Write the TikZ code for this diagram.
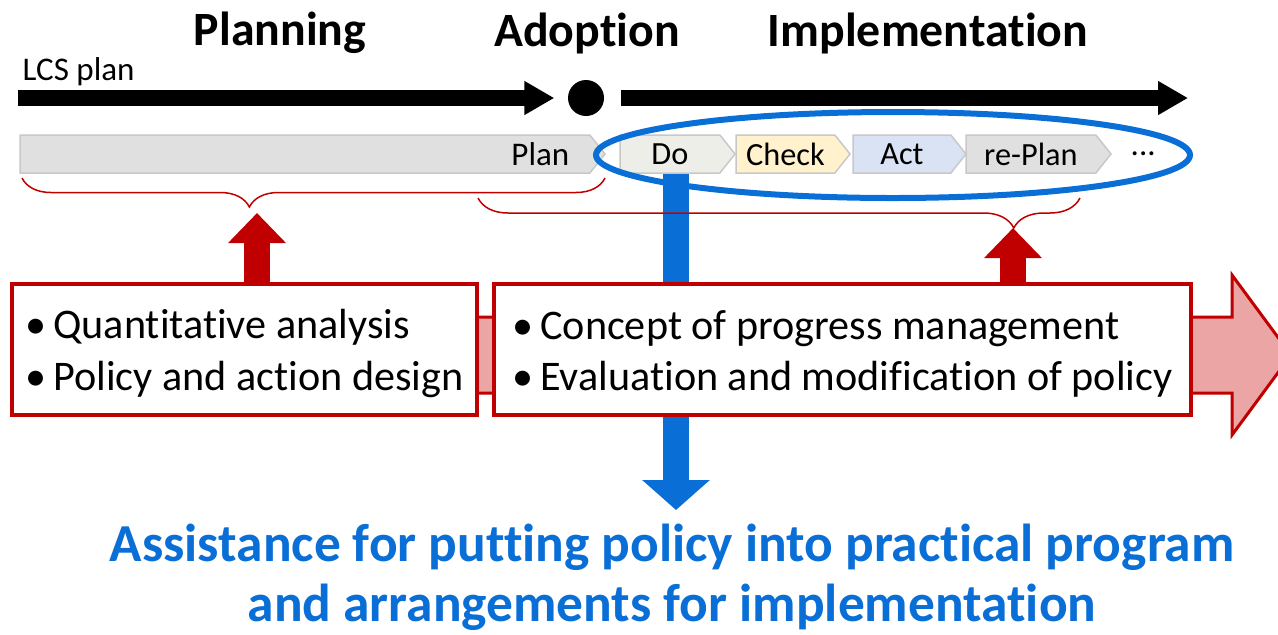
\documentclass[tikz,border=0pt]{standalone}
\usepackage{fontspec}
\setmainfont{Carlito}[Ligatures=NoCommon]
\usetikzlibrary{positioning}
\usetikzlibrary{shapes.symbols}
\usetikzlibrary{arrows.meta}
\usetikzlibrary{decorations.pathreplacing}

\definecolor{lcsred}{HTML}{C00000}
\definecolor{lcspink}{HTML}{EBA5A5}
\definecolor{lcsblue}{HTML}{0A6ED7}
\definecolor{chevgray}{HTML}{E0E0E0}
\definecolor{chevline}{HTML}{C8C8C8}
\definecolor{chevdo}{HTML}{EEEEE8}
\definecolor{chevcheck}{HTML}{FFF2CC}
\definecolor{chevact}{HTML}{DAE3F3}

\newcommand{\topstrut}{\rule{0pt}{10.6pt}}

\begin{document}
\begin{tikzpicture}
    [
    x=0.1mm, y=-0.1mm,
    heading/.style={font=\fontsize{13.6}{16}\selectfont\bfseries, inner sep=0},
    small/.style={font=\fontsize{9.4}{11}\selectfont, inner sep=0},
    chevron/.style={signal, signal to=east, signal pointer angle=103, draw=chevline, line width=0.15mm,
        minimum height=3.8mm, inner sep=0, outer sep=0, font=\fontsize{9.2}{11}\selectfont},
    time_arrow/.style={line width=1.6mm, -{Triangle[length=3mm, width=3.2mm]}},
    up_arrow/.style={line width=2.6mm, draw=lcsred, -{Triangle[length=3mm, width=5.6mm]}},
    down_arrow/.style={line width=2.6mm, draw=lcsblue, -{Triangle[length=3mm, width=6.6mm]}},
    brace_line/.style={draw=lcsred, line width=0.15mm, decorate},
    infobox/.style={draw=lcsred, line width=0.4mm, fill=white, align=left, inner sep=0,
        minimum height=13.1mm, font=\fontsize{12}{14.6}\selectfont},
    ]

    % frame of the picture
    \useasboundingbox (0,0) rectangle (1278,634);

    % headings and time line
    \node[heading] (hd_planning) at (280,33) {Planning};
    \node[heading] (hd_adoption) at (587,33) {Adoption};
    \node[heading] (hd_implementation) at (928,33) {Implementation};

    \coordinate (time_start) at (18,98);
    \coordinate (time_end) at (1188,98);
    \node[circle, fill=black, minimum size=3.6mm, inner sep=0] (adopt_dot) at (586,98) {};
    \node[small, anchor=south west] (lbl_lcs) at (22,87) {LCS plan};
    \draw[time_arrow, shorten >=1.3mm] (time_start) -- (adopt_dot);
    \draw[time_arrow, shorten <=1.6mm] (adopt_dot) -- (time_end);

    % big flow arrow behind the boxes
    \draw[draw=lcsred, fill=lcspink, line width=0.3mm]
        (470,317) -- (1232,317) -- (1232,275) -- (1291,355) -- (1232,435) -- (1232,393) -- (470,393) -- cycle;

    % blue arrow down to the assistance text
    \coordinate (blue_start) at (676,165);
    \coordinate (blue_end) at (676,510);
    \draw[down_arrow] (blue_start) -- (blue_end);

    % the two boxes
    \node[infobox, minimum width=46.5mm] (box_quant) at (244.5,349.5)
    {\topstrut\textbullet\,Quantitative analysis\\\textbullet\,Policy and action design};
    \node[infobox, minimum width=69.7mm, right=1.3mm of box_quant] (box_impl)
    {\topstrut\textbullet\,Concept of progress management\\\textbullet\,Evaluation and modification of policy};

    % PDCA steps
    \node[chevron, fill=chevgray, minimum width=58.5mm, anchor=west] (chev_plan) at (20,154) {};
    \node[small, left=3.5mm of chev_plan.east] (lbl_plan) {Plan};
    \node[chevron, fill=chevdo, minimum width=11.5mm, right=1.5mm of chev_plan] (chev_do) {Do};
    \node[chevron, fill=chevcheck, minimum width=11.4mm, right=0.1mm of chev_do] (chev_check) {Check};
    \node[chevron, fill=chevact, minimum width=11.3mm, right=0.3mm of chev_check] (chev_act) {Act};
    \node[chevron, fill=chevgray, minimum width=14.5mm, right=0mm of chev_act] (chev_replan) {re-Plan};
    \node[small, right=1.9mm of chev_replan] (lbl_more) {...};

    % ring round the implementation steps
    \draw[lcsblue, line width=0.6mm] (893,155) ellipse [x radius=297, y radius=43];

    % braces and the red arrows up to them
    \draw[brace_line, decoration={brace, amplitude=2.9mm, aspect=0.61}] (605,178) -- (22,178);
    \draw[brace_line, decoration={brace, amplitude=3mm, aspect=0.11}] (1080,198) -- (478,198);
    \coordinate (tip_plan) at (257,213);
    \coordinate (tip_impl) at (1013,228);
    \draw[up_arrow] (box_quant.north -| tip_plan) -- (tip_plan);
    \draw[up_arrow] (box_impl.north -| tip_impl) -- (tip_impl);

    % result
    \node[font=\fontsize{15.2}{17.1}\selectfont\bfseries, text=lcsblue, align=center, inner sep=0] (lbl_assist) at (672,577)
    {Assistance for putting policy into practical program\\and arrangements for implementation};
\end{tikzpicture}
\end{document}
